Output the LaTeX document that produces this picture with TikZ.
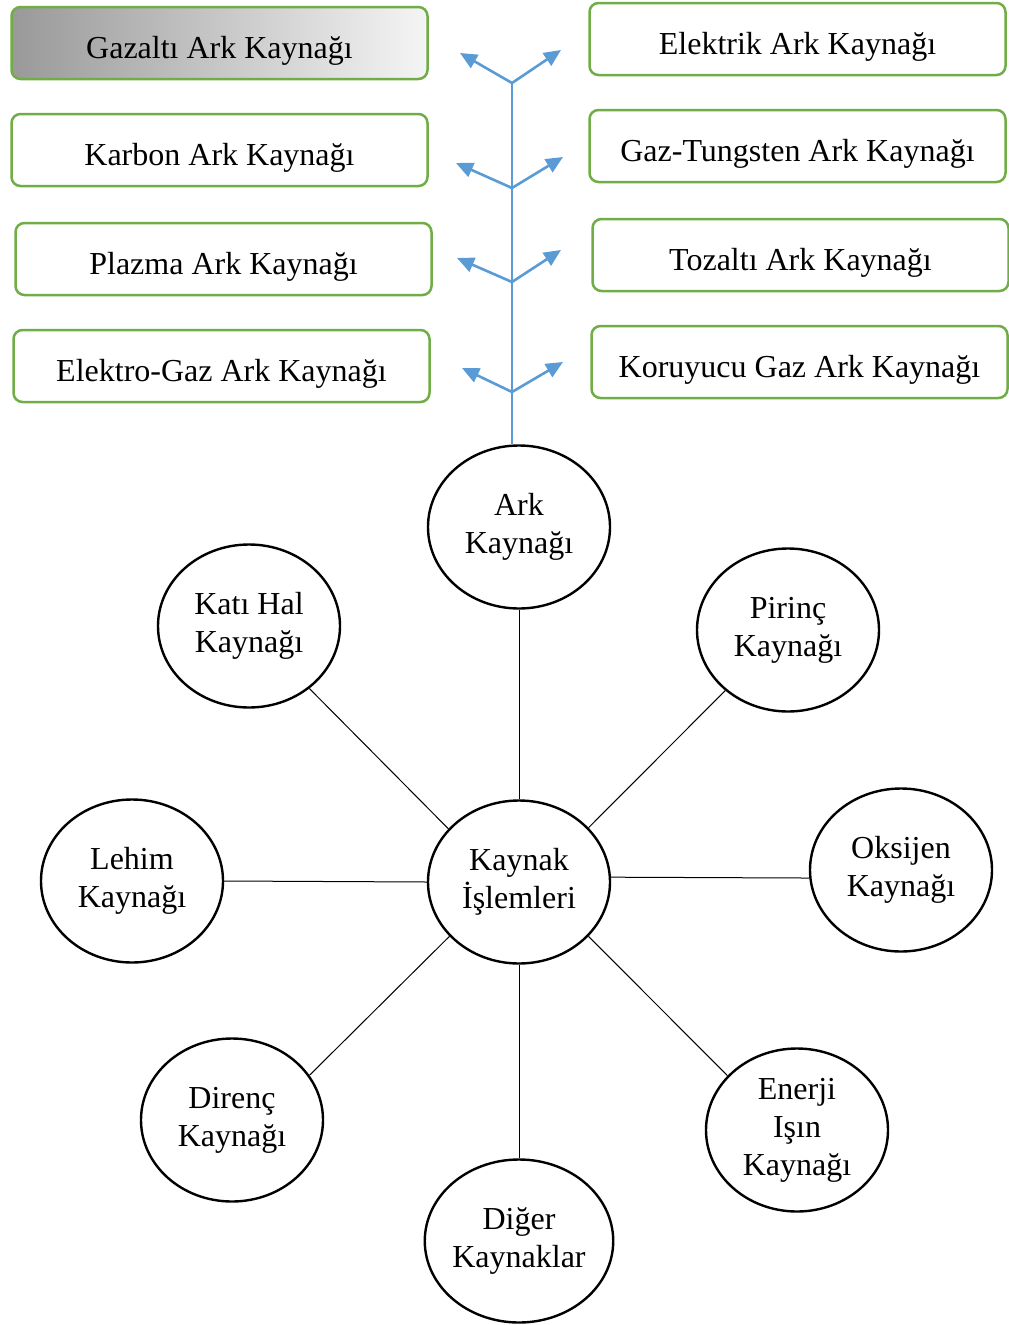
\documentclass[tikz,border=0pt]{standalone}
\usepackage{fontspec}
\setmainfont{Liberation Serif}
\usetikzlibrary{shapes.geometric,arrows.meta}
\definecolor{boxgreen}{HTML}{70AD47}
\definecolor{stemblue}{HTML}{5B9BD5}
\begin{document}
\begin{tikzpicture}[x=1pt, y=-1pt,
    arcbox/.style={rectangle, draw=boxgreen, line width=2.5pt, rounded corners=9pt, minimum width=416pt, minimum height=72pt, text height=30pt, text depth=0pt, font=\fontsize{32}{38}\selectfont},
    method/.style={ellipse, draw, line width=2.4pt, minimum width=182pt, minimum height=163pt, inner sep=0pt, align=center, font=\fontsize{32}{38}\selectfont},
    branch/.style={draw=stemblue, line width=2.6pt, -{Triangle[length=17pt,width=15pt]}},
    spoke/.style={draw, line width=1pt}
]
    \useasboundingbox (0,0) rectangle (1009,1325);

    % Arc welding types
    \node[arcbox, left color=black!40, right color=black!4] (gazalti) at (219.5,43) {Gazaltı Ark Kaynağı};
    \node[arcbox] (karbon) at (219.5,150) {Karbon Ark Kaynağı};
    \node[arcbox] (plazma) at (223.5,259) {Plazma Ark Kaynağı};
    \node[arcbox] (elektrogaz) at (221.5,366) {Elektro-Gaz Ark Kaynağı};
    \node[arcbox] (elektrik) at (797.5,39) {Elektrik Ark Kaynağı};
    \node[arcbox] (tungsten) at (797.5,146) {Gaz-Tungsten Ark Kaynağı};
    \node[arcbox] (tozalti) at (800.5,255) {Tozaltı Ark Kaynağı};
    \node[arcbox] (koruyucu) at (799.5,362) {Koruyucu Gaz Ark Kaynağı};

    % Stem and branches
    \coordinate (fork1) at (512,83);
    \coordinate (fork2) at (512,188);
    \coordinate (fork3) at (512,282);
    \coordinate (fork4) at (512,392);
    \coordinate (tipL1) at (460,53);
    \coordinate (tipR1) at (561,50);
    \coordinate (tipL2) at (456,163);
    \coordinate (tipR2) at (563,157);
    \coordinate (tipL3) at (457,258);
    \coordinate (tipR3) at (561,250);
    \coordinate (tipL4) at (462,368);
    \coordinate (tipR4) at (563,362);

    % Welding processes
    \node[method] (islemler) at (519,882) {Kaynak\\İşlemleri};
    \node[method] (ark) at (519,527) {Ark\\Kaynağı};
    \node[method] (katihal) at (249,626) {Katı Hal\\Kaynağı};
    \node[method] (pirinc) at (788,630) {Pirinç\\Kaynağı};
    \node[method] (lehim) at (132,881) {Lehim\\Kaynağı};
    \node[method] (oksijen) at (901,870) {Oksijen\\Kaynağı};
    \node[method] (direnc) at (232,1120) {Direnç\\Kaynağı};
    \node[method] (enerji) at (797,1130) {Enerji\\Işın\\Kaynağı};
    \node[method] (diger) at (519,1241) {Diğer\\Kaynaklar};

    \draw[stemblue, line width=1.5pt] (fork1 |- ark.north) -- (fork1);
    \foreach \i in {1,...,4} {
        \draw[branch] (fork\i) -- (tipL\i);
        \draw[branch] (fork\i) -- (tipR\i);
    }

    % Spokes
    \draw[spoke] (islemler.north) -- (ark.south);
    \draw[spoke] (islemler.143) -- (katihal.-46);
    \draw[spoke] (islemler.38) -- (pirinc.-136);
    \draw[spoke] (islemler.west) -- (lehim.east);
    \draw[spoke] (islemler.3) -- (oksijen.-175);
    \draw[spoke] (islemler.-142) -- (direnc.30);
    \draw[spoke] (islemler.-38) -- (enerji.142);
    \draw[spoke] (islemler.south) -- (diger.north);

\end{tikzpicture}
\end{document}
